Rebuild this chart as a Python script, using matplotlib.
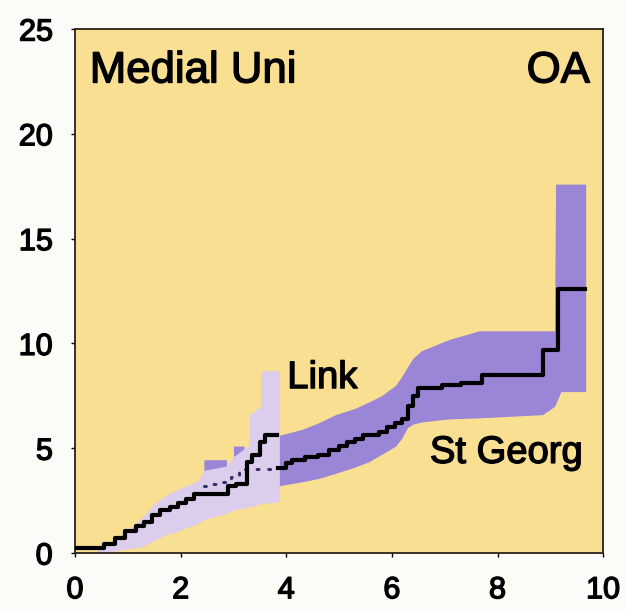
import matplotlib
matplotlib.use("Agg")
import matplotlib.pyplot as plt
import matplotlib.patheffects as pe

# ---- data ----
link_x = [0.0, 0.55, 0.75, 0.95, 1.15, 1.3, 1.45, 1.6, 1.8, 1.95, 2.1, 2.25, 2.9, 3.05, 3.25, 3.35, 3.5, 3.6, 3.82]
link_y = [0.25, 0.45, 0.7, 1.05, 1.3, 1.5, 1.8, 2.05, 2.2, 2.4, 2.6, 2.8, 3.2, 3.3, 4.35, 4.7, 5.3, 5.65, 5.65]

link_band_x = [0.35, 0.65, 1.0, 1.27, 1.5, 1.75, 1.9, 2.1, 2.33, 2.45, 2.87, 3.0, 3.3, 3.3, 3.52, 3.52, 3.87]
link_band_lo = [0.0, 0.05, 0.2, 0.3, 0.6, 0.9, 1.0, 1.2, 1.4, 1.6, 1.9, 2.05, 2.2, 2.2, 2.35, 2.35, 2.45]
link_band_hi = [0.0, 0.5, 1.1, 1.7, 2.35, 2.8, 3.0, 3.2, 3.45, 3.95, 4.15, 4.6, 5.15, 6.6, 7.0, 8.7, 8.7]

sg_dot_x = [2.45, 2.6, 2.8, 2.95, 3.1, 3.84]
sg_dot_y = [3.2, 3.3, 3.4, 3.65, 4.0, 4.05]

sg_x = [3.84, 4.0, 4.1, 4.35, 4.6, 4.8, 5.0, 5.15, 5.3, 5.45, 5.75, 5.9, 6.05, 6.2, 6.3, 6.4, 6.5, 6.95, 7.3, 7.7, 8.86, 8.95, 9.15, 9.66]
sg_y = [4.05, 4.3, 4.45, 4.6, 4.7, 4.9, 5.1, 5.3, 5.45, 5.65, 5.75, 6.0, 6.2, 6.4, 7.0, 7.5, 7.85, 8.0, 8.1, 8.5, 9.7, 9.7, 12.6, 12.6]

sg_band_x = [2.44, 2.87, 2.87, 3.0, 3.0, 3.2, 3.2, 3.84,
             3.84, 4.3, 4.6, 4.93, 5.3, 5.56, 5.8, 6.07, 6.18, 6.3, 6.4, 6.56, 6.9, 7.1,
             7.65, 8.85, 9.08, 9.1, 9.2, 9.67]
sg_band_lo = [3.0, 3.0, 3.0, 3.0, 3.0, 3.0, 3.0, 3.0,
              3.2, 3.4, 3.55, 3.8, 4.1, 4.35, 4.7, 5.1, 5.45, 6.0, 6.15, 6.25, 6.35, 6.4,
              6.45, 6.6, 7.0, 7.1, 7.7, 7.7]
sg_band_hi = [4.45, 4.45, 4.0, 4.0, 5.1, 5.1, 4.0, 4.0,
              5.6, 5.9, 6.2, 6.6, 6.9, 7.2, 7.5, 8.0, 8.4, 8.9, 9.3, 9.65, 10.0, 10.2,
              10.6, 10.6, 10.6, 17.6, 17.6, 17.6]

x_ticks = [0, 2, 4, 6, 8, 10]
y_ticks = [0, 5, 10, 15, 20, 25]

# ---- styling ----
yellow = "#f8df92"
link_col = "#dccdec"
sg_col = "#9a85d7"
fam = ["Liberation Sans", "DejaVu Sans"]
fx = [pe.withStroke(linewidth=1.0, foreground="black")]

fig = plt.figure(figsize=(6.25, 6.11), dpi=100, facecolor="#fbfbf8")
ax = fig.add_axes([0.12, 0.0949, 0.845, 0.8576])
ax.set_facecolor(yellow)

ax.fill_between(sg_band_x, sg_band_lo, sg_band_hi, color=sg_col, lw=0, zorder=1)
ax.fill_between(link_band_x, link_band_lo, link_band_hi, color=link_col, lw=0, zorder=2)

ax.plot(sg_dot_x, sg_dot_y, drawstyle="steps-post", color="#34306a", lw=2.2,
        linestyle=(0, (0.6, 3.2)), dash_capstyle="round", zorder=3)
ax.plot(sg_x, sg_y, drawstyle="steps-post", color="black", lw=3, zorder=4)
ax.plot(link_x, link_y, drawstyle="steps-post", color="black", lw=3, zorder=4)

ax.set_xlim(0, 10)
ax.set_ylim(0, 25)
ax.set_xticks(x_ticks)
ax.set_yticks(y_ticks)
ax.tick_params(direction="out", length=3, width=1, pad=13, labelsize=22)
for lab in ax.get_xticklabels() + ax.get_yticklabels():
    lab.set_family(fam)
    lab.set_path_effects(fx)
for s in ax.spines.values():
    s.set_linewidth(1.3)
    s.set_color("#2a2018")

tkw = dict(family=fam, color="black", path_effects=fx)
ax.text(0.28, 22.45, "Medial Uni", fontsize=31.5, ha="left", va="baseline", **tkw)
ax.text(9.75, 22.45, "OA", fontsize=31.5, ha="right", va="baseline", **tkw)
ax.text(4.02, 7.87, "Link", fontsize=27.5, ha="left", va="baseline", zorder=5, **tkw)
ax.text(6.72, 4.3, "St Georg", fontsize=27.5, ha="left", va="baseline", zorder=5, **tkw)

fig.savefig("out.png", dpi=100, facecolor=fig.get_facecolor())
